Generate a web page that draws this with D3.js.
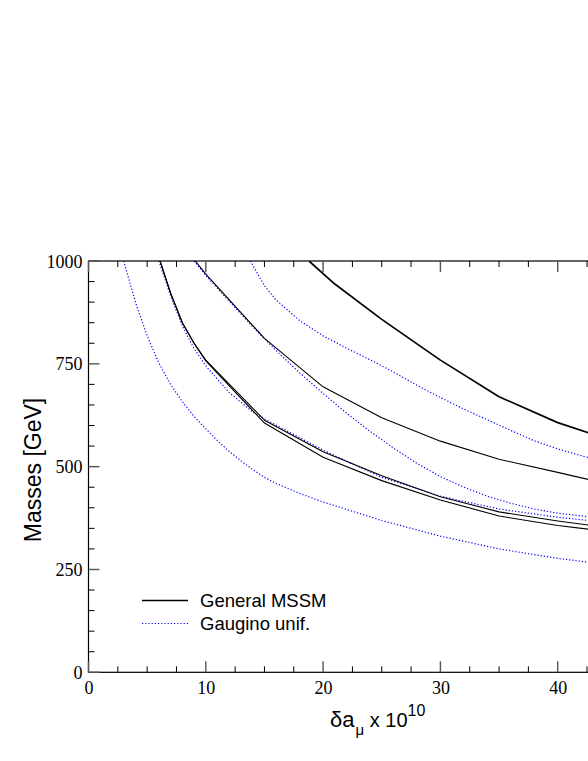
<!DOCTYPE html>
<html>
<head>
<meta charset="utf-8">
<script src="https://cdn.jsdelivr.net/npm/d3@7"></script>
<style>
html,body{margin:0;padding:0;background:#fff;overflow:hidden;}
svg{display:block;}
.tick text{font-family:'Liberation Serif','Times New Roman',serif !important;}
</style>
</head>
<body>
<div id="chart"></div>
<script>
// ---- data ----
const xTicks = [0, 10, 20, 30, 40];
const yTicks = [0, 250, 500, 750, 1000];
const xTickLabels = ["0", "10", "20", "30", "40"];
const yTickLabels = ["0", "250", "500", "750", "1000"];

// General MSSM (solid black)
const mssmA = [[6.1,1000],[7,922],[8,850],[9,800],[10,759],[15,613],[20,536],[25,478],[30,427],[35,390],[40,368],[45,349],[50,330]];
const mssmB = [[6.1,1000],[7,922],[8,850],[9,800],[10,757],[15,606],[20,523],[25,466],[30,419],[35,380],[40,357],[45,340],[50,322]];
const mssmC = [[9.1,1000],[10,968],[15,812],[20,694],[25,619],[30,562],[35,518],[40,486],[45,453],[50,427]];
const mssmD = [[18.8,1000],[21,944],[25,858],[30,759],[35,670],[40,607],[45,560],[50,525]];

// Gaugino unification (blue dotted)
const gaugB = [[3,1000],[4,900],[5,818],[6,752],[7,700],[8,658],[9,622],[10,592],[11,563],[12,537],[13,514],[14,493],[15,474],[16,459],[18,435],[20,414],[25,369],[30,331],[35,300],[40,277],[45,259],[50,244]];
const gaugG = [[6.0,1000],[7,915],[8,842],[9,787],[10,745],[12,680],[14,633],[15,616],[20,540],[25,474],[30,428],[35,397],[40,377],[45,362],[50,350]];
const gaugF = [[9.0,1000],[10,965],[12,902],[14,840],[16,782],[18,728],[20,678],[22,630],[24,586],[26,545],[28,508],[30,476],[32,450],[34,428],[36,411],[38,397],[40,387],[42.6,378],[45,371],[50,360]];
const gaugE = [[13.8,1000],[15,940],[16,905],[18,855],[20,818],[22,788],[24,760],[26,730],[28,698],[30,668],[32,640],[34,614],[36,588],[38,563],[40,543],[42.6,522],[45,505],[50,475]];

const legendLabels = ["General MSSM", "Gaugino unif."];

// ---- layout ----
const W = 588, H = 761;
const mLeft = 88.5, mTop = 261, mRight = 675, mBottom = 672.3;

const svg = d3.select("#chart").append("svg")
  .attr("width", W).attr("height", H)
  .style("font-family", "'Liberation Sans', Arial, Helvetica, sans-serif");

const x = d3.scaleLinear().domain([0, 50]).range([mLeft, mRight]);
const y = d3.scaleLinear().domain([0, 1000]).range([mBottom, mTop]);

svg.append("clipPath").attr("id", "plotclip")
  .append("rect").attr("x", mLeft).attr("y", mTop).attr("width", mRight - mLeft).attr("height", mBottom - mTop);

const line = d3.line().x(d => x(d[0])).y(d => y(d[1]));
const curves = svg.append("g").attr("clip-path", "url(#plotclip)");

function dotted(data) {
  curves.append("path").datum(data).attr("d", line)
    .attr("fill", "none").attr("stroke", "#0000ff").attr("stroke-width", 1.2)
    .attr("stroke-dasharray", "1.2,2");
}
function solid(data, w) {
  curves.append("path").datum(data).attr("d", line)
    .attr("fill", "none").attr("stroke", "#000").attr("stroke-width", w)
    .attr("stroke-linejoin", "round");
}
[gaugB, gaugG, gaugF, gaugE].forEach(dotted);
solid(mssmA, 1.1);
solid(mssmB, 1.1);
solid(mssmC, 1.1);
solid(mssmD, 1.7);

// ---- axes ----
const minorX = d3.range(0, 50.01, 2.5).filter(v => v % 10 !== 0);
const minorY = d3.range(0, 1000.1, 50).filter(v => v % 250 !== 0);
const serif = "'Liberation Serif', 'Times New Roman', serif";

const axisBottom = d3.axisBottom(x).tickValues(xTicks).tickFormat((d, i) => xTickLabels[i]).tickSize(0).tickPadding(0);
const gx = svg.append("g").attr("transform", `translate(0,${mBottom})`).call(axisBottom)
  .attr("font-family", serif);
gx.select(".domain").remove();
gx.selectAll("text").style("font-family", serif)
  .attr("font-size", 18).attr("fill", "#000").attr("dy", null).attr("y", 22);

const axisLeft = d3.axisLeft(y).tickValues(yTicks).tickFormat((d, i) => yTickLabels[i]).tickSize(0).tickPadding(0);
const gy = svg.append("g").attr("transform", `translate(${mLeft},0)`).call(axisLeft)
  .attr("font-family", serif);
gy.select(".domain").remove();
gy.selectAll("text").style("font-family", serif)
  .attr("font-size", 18).attr("fill", "#000").attr("x", -6).attr("dy", "0.34em");

// frame
svg.append("rect").attr("x", mLeft).attr("y", mTop).attr("width", mRight - mLeft).attr("height", mBottom - mTop)
  .attr("fill", "none").attr("stroke", "#000").attr("stroke-width", 1.2);

const ticks = svg.append("g");
xTicks.concat([50]).forEach(v => {
  ticks.append("line").attr("x1", x(v)).attr("x2", x(v)).attr("y1", mBottom).attr("y2", mBottom - 11)
    .attr("stroke", "#555").attr("stroke-width", 1.4);
  ticks.append("line").attr("x1", x(v)).attr("x2", x(v)).attr("y1", mTop).attr("y2", mTop + 11)
    .attr("stroke", "#555").attr("stroke-width", 1.4);
});
minorX.forEach(v => {
  ticks.append("line").attr("x1", x(v)).attr("x2", x(v)).attr("y1", mBottom).attr("y2", mBottom - 6)
    .attr("stroke", "#000").attr("stroke-width", 1);
  ticks.append("line").attr("x1", x(v)).attr("x2", x(v)).attr("y1", mTop).attr("y2", mTop + 6)
    .attr("stroke", "#000").attr("stroke-width", 1);
});
yTicks.forEach(v => {
  ticks.append("line").attr("x1", mLeft).attr("x2", mLeft + 11).attr("y1", y(v)).attr("y2", y(v))
    .attr("stroke", "#555").attr("stroke-width", 1.4);
});
minorY.forEach(v => {
  ticks.append("line").attr("x1", mLeft).attr("x2", mLeft + 6).attr("y1", y(v)).attr("y2", y(v))
    .attr("stroke", "#000").attr("stroke-width", 1);
});

// axis titles
const xt = svg.append("text").attr("x", 330).attr("y", 727).attr("font-size", 19).attr("fill", "#000");
xt.append("tspan").text("δa").attr("font-size", 22);
xt.append("tspan").text("μ").attr("font-size", 15).attr("dy", 8).attr("dx", 1);
xt.append("tspan").text(" x 10").attr("font-size", 20).attr("dy", -8);
xt.append("tspan").text("10").attr("font-size", 16).attr("dy", -11);

svg.append("text").attr("transform", "translate(41,470) rotate(-90)")
  .attr("text-anchor", "middle").attr("font-size", 23).attr("fill", "#000").text("Masses [GeV]");

// legend
const lg = svg.append("g");
lg.append("line").attr("x1", 142).attr("x2", 188).attr("y1", 600.5).attr("y2", 600.5)
  .attr("stroke", "#000").attr("stroke-width", 1.5);
lg.append("line").attr("x1", 142).attr("x2", 188).attr("y1", 623.5).attr("y2", 623.5)
  .attr("stroke", "#0000ff").attr("stroke-width", 1.2).attr("stroke-dasharray", "1.2,2");
lg.append("text").attr("x", 200).attr("y", 607).attr("font-size", 18.5).attr("fill", "#000").text(legendLabels[0]);
lg.append("text").attr("x", 200).attr("y", 630).attr("font-size", 18.5).attr("fill", "#000").text(legendLabels[1]);
</script>
</body>
</html>
